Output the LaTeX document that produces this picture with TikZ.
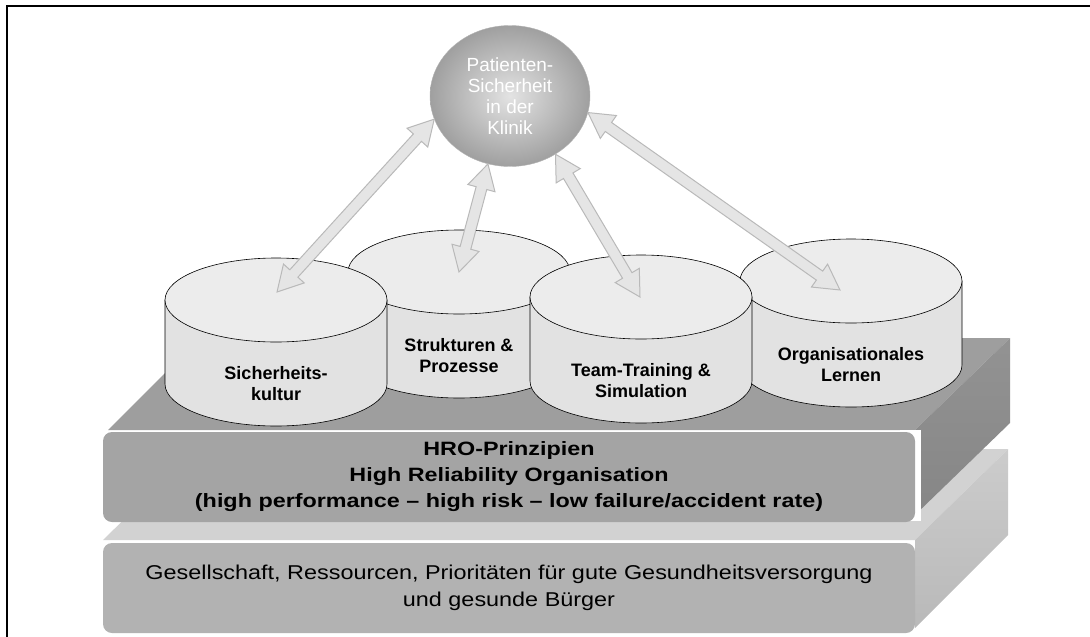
\documentclass[tikz,border=0pt]{standalone}
\usepackage{fontspec}
\setmainfont{Liberation Sans}
\newfontfamily\widefont{Liberation Sans}[FakeStretch=1.17]
\newfontfamily\hrofont{Liberation Sans}[FakeStretch=1.21]
\usetikzlibrary{calc,shapes.geometric}

\tikzset{
  drumtop/.style={fill=gray!15, draw=black, line width=0.6pt},
  drumside/.style={fill=gray!23, draw=black, line width=0.6pt},
  drumlabel/.style={font=\fontsize{18}{21}\selectfont\bfseries, align=center},
  twoway/.style={fill=gray!20, draw=gray!55, line width=1pt},
  slabface/.style={rounded corners=9pt, minimum width=812pt, minimum height=90pt,
    align=center, inner sep=0pt},
}

% cylinder: name, centre x, top centre y, bottom centre y, label
\newcommand\drum[5]{%
  \filldraw[drumside] ({#2-111},#3) -- ({#2-111},#4)
    arc[start angle=180, end angle=360, x radius=111pt, y radius=42pt] -- ({#2+111},#3) -- cycle;
  \filldraw[drumtop] (#2,#3) ellipse[x radius=111pt, y radius=42pt];
  \node[drumlabel] (#1) at (#2,#4) {#5};}

% block arrow with two heads
\newcommand\twoway[2]{%
  \filldraw[twoway] let \p1=($(#2)-(#1)$), \n1={atan2(\y1,\x1)}, \n2={veclen(\x1,\y1)} in
    [shift={(#1)}, rotate=\n1]
    (0pt,0pt) -- (25pt,14pt) -- (25pt,5.5pt) -- ({\n2-25pt},5.5pt) -- ({\n2-25pt},14pt)
    -- (\n2,0pt) -- ({\n2-25pt},-14pt) -- ({\n2-25pt},-5.5pt) -- (25pt,-5.5pt) -- (25pt,-14pt) -- cycle;}

\begin{document}
\begin{tikzpicture}[x=1pt,y=-1pt]
  \useasboundingbox (0,0) rectangle (1090,637);
  \draw[line width=1.5pt] (7,637) -- (7,6) -- (1090,6);

  % lower slab
  \fill[gray!35] (103,540) -- (915,540) -- (1008,449) -- (196,449) -- cycle;
  \shade[top color=gray!40, bottom color=gray!55] (915,540) -- (1008,449) -- (1008,535) -- (915,628) -- cycle;
  \node[slabface, fill=gray!60, font=\widefont\fontsize{20}{27}\selectfont] (basis) at (509,588)
    {Gesellschaft, Ressourcen, Prioritäten für gute Gesundheitsversorgung\\und gesunde Bürger};

  % upper slab
  \fill[gray!76] (108,430) -- (915,430) -- (1010,338) -- (200,338) -- cycle;
  \shade[top color=gray!85, bottom color=gray!95] (915,430) -- (1010,338) -- (1010,423) -- (915,515) -- cycle;
  \fill[white] (900,430) rectangle (921,521);
  \node[slabface, fill=gray!71, font=\hrofont\fontsize{19.3}{26}\selectfont\bfseries] (hro) at (509,477)
    {HRO-Prinzipien\\High Reliability Organisation\\(high performance – high risk – low failure/accident rate)};

  % pillars
  \drum{struktur}{459}{272}{356}{Strukturen \&\\Prozesse}
  \drum{lernen}{851}{281}{365}{Organisationales\\Lernen}
  \drum{kultur}{276}{300}{384}{Sicherheits-\\kultur}
  \drum{training}{641}{297}{381}{Team-Training \&\\Simulation}

  \node[ellipse, minimum width=160pt, minimum height=141pt, inner sep=0pt, draw=gray!60,
    shade, shading=radial, inner color=gray!22, outer color=gray!75, text=white,
    font=\fontsize{19}{21}\selectfont, align=center] (ball) at (510,96)
    {Patienten-\\Sicherheit\\in der\\Klinik};

  \coordinate (kulturtop) at (277,292);
  \coordinate (strukturtop) at (459,272);
  \coordinate (trainingtop) at (640,297);
  \coordinate (lernentop) at (840,290);

  \twoway{ball.197}{kulturtop}
  \twoway{ball.252}{strukturtop}
  \twoway{ball.308}{trainingtop}
  \twoway{ball.348}{lernentop}
\end{tikzpicture}
\end{document}
